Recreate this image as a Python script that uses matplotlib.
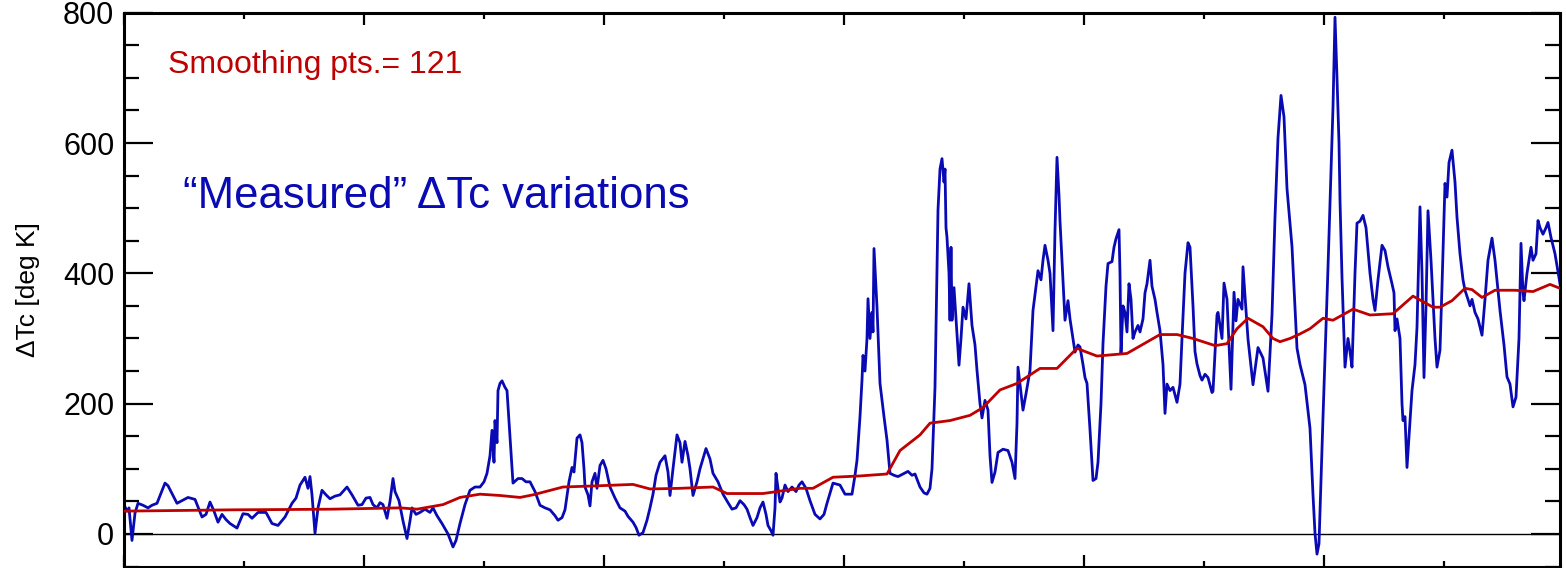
import matplotlib
matplotlib.use("Agg")
import matplotlib.pyplot as plt
from matplotlib.ticker import MultipleLocator, NullFormatter
import numpy as np

# ---- data (sample index, deg K) ----
blue_x = [0, 3, 5, 8, 11, 14, 19, 24, 28, 33, 41, 44, 53, 59, 64, 71, 78, 82, 86, 90, 94, 98, 102, 106, 113, 119, 124, 128, 134, 142, 148, 154, 161, 168, 172, 176, 181, 184, 186, 188, 191, 194, 198, 202, 206, 211, 216, 223, 228, 234, 238, 242, 246, 249, 253, 256, 259, 263, 266, 269, 271, 275, 279, 283, 286, 288, 292, 296, 301, 306, 309, 313, 318, 324, 329, 332, 336, 341, 346, 351, 356, 360, 363, 366, 368, 370, 371, 373, 374, 376, 378, 381, 383, 386, 389, 394, 398, 402, 406, 411, 416, 421, 426, 431, 434, 438, 441, 445, 448, 450, 453, 456, 458, 460, 461, 464, 466, 468, 471, 473, 476, 479, 482, 486, 491, 496, 501, 504, 509, 512, 515, 519, 523, 526, 529, 532, 536, 541, 544, 546, 549, 553, 556, 558, 561, 564, 566, 569, 573, 576, 582, 586, 589, 594, 599, 604, 608, 612, 616, 620, 623, 626, 629, 633, 636, 639, 642, 644, 647, 649, 651, 652, 654, 656, 658, 661, 664, 668, 672, 675, 678, 682, 686, 691, 696, 700, 703, 709, 716, 721, 728, 731, 733, 736, 738, 739, 741, 743, 744, 746, 748, 749, 750, 752, 753, 756, 760, 763, 766, 770, 774, 779, 784, 788, 791, 796, 800, 803, 806, 808, 811, 813, 814, 816, 818, 820, 821, 822, 823, 825, 826, 827, 828, 830, 832, 835, 837, 839, 842, 845, 848, 851, 853, 856, 858, 861, 864, 866, 868, 871, 874, 879, 884, 888, 891, 893, 894, 896, 899, 902, 906, 909, 912, 914, 917, 919, 921, 924, 926, 929, 931, 932, 933, 935, 936, 938, 941, 944, 946, 949, 951, 954, 956, 959, 961, 963, 966, 969, 972, 974, 977, 979, 982, 984, 988, 990, 992, 995, 996, 997, 999, 1001, 1003, 1005, 1007, 1009, 1011, 1014, 1016, 1019, 1021, 1023, 1026, 1028, 1031, 1033, 1036, 1039, 1041, 1043, 1046, 1049, 1053, 1056, 1058, 1061, 1064, 1066, 1069, 1071, 1073, 1076, 1078, 1081, 1084, 1088, 1089, 1093, 1094, 1098, 1100, 1103, 1107, 1110, 1112, 1114, 1118, 1119, 1124, 1129, 1134, 1139, 1144, 1148, 1151, 1154, 1157, 1160, 1163, 1168, 1173, 1176, 1181, 1186, 1189, 1191, 1193, 1195, 1199, 1204, 1209, 1211, 1213, 1215, 1216, 1218, 1221, 1224, 1226, 1228, 1231, 1233, 1236, 1239, 1242, 1246, 1249, 1251, 1254, 1258, 1261, 1264, 1268, 1270, 1271, 1273, 1276, 1278, 1279, 1281, 1283, 1285, 1288, 1291, 1293, 1296, 1298, 1300, 1302, 1304, 1307, 1309, 1311, 1313, 1316, 1318, 1321, 1323, 1325, 1328, 1331, 1333, 1336, 1339, 1341, 1344, 1346, 1348, 1351, 1354, 1358, 1361, 1364, 1368, 1371, 1376, 1380, 1383, 1386, 1389, 1392, 1395, 1397, 1399, 1400, 1403, 1407, 1409, 1412, 1414, 1416, 1419, 1422, 1424, 1427, 1431, 1436]
blue_y = [45, 35, 40, -10, 32, 47, 44, 40, 44, 47, 78, 74, 47, 52, 56, 53, 26, 30, 49, 35, 18, 30, 22, 16, 9, 31, 30, 24, 33, 33, 16, 13, 26, 47, 55, 75, 87, 70, 88, 60, 1, 40, 67, 60, 54, 58, 60, 72, 60, 44, 45, 55, 56, 45, 40, 48, 45, 24, 50, 85, 65, 51, 20, -7, 20, 40, 30, 33, 38, 33, 40, 28, 16, 0, -20, -10, 16, 45, 67, 72, 72, 80, 93, 120, 159, 110, 174, 140, 220, 231, 235, 225, 220, 150, 78, 85, 85, 80, 80, 65, 44, 40, 37, 28, 21, 25, 37, 80, 102, 95, 147, 152, 140, 100, 72, 60, 43, 80, 93, 70, 105, 113, 100, 72, 55, 40, 35, 27, 18, 10, -2, 2, 21, 40, 61, 90, 110, 120, 95, 59, 100, 152, 140, 110, 142, 120, 100, 59, 80, 100, 131, 115, 93, 80, 61, 48, 38, 40, 51, 45, 38, 25, 13, 25, 40, 49, 30, 13, 5, -2, 40, 93, 70, 49, 55, 75, 65, 72, 65, 75, 80, 70, 51, 30, 23, 30, 47, 78, 75, 61, 61, 90, 113, 180, 236, 274, 250, 300, 361, 300, 340, 310, 438, 380, 348, 231, 180, 144, 93, 90, 88, 92, 96, 90, 92, 72, 63, 61, 70, 100, 225, 400, 497, 560, 576, 540, 560, 470, 455, 400, 328, 440, 328, 378, 330, 259, 300, 348, 330, 384, 320, 290, 251, 200, 178, 205, 190, 120, 79, 95, 125, 130, 128, 110, 85, 170, 256, 230, 190, 215, 251, 343, 380, 404, 390, 420, 443, 420, 400, 312, 466, 520, 578, 520, 480, 420, 328, 358, 330, 300, 279, 290, 287, 260, 240, 231, 160, 82, 85, 110, 200, 292, 380, 415, 418, 440, 453, 467, 400, 277, 350, 340, 310, 384, 360, 300, 310, 320, 310, 330, 370, 384, 420, 380, 360, 340, 312, 260, 185, 230, 220, 225, 202, 230, 300, 400, 447, 440, 350, 280, 261, 243, 236, 245, 240, 217, 219, 336, 340, 300, 385, 360, 222, 371, 327, 360, 345, 410, 299, 229, 286, 270, 219, 336, 486, 608, 673, 640, 530, 441, 285, 260, 229, 162, 60, 1, -31, -15, 179, 409, 655, 793, 700, 600, 512, 394, 256, 300, 280, 256, 400, 477, 480, 489, 470, 400, 360, 343, 390, 443, 435, 410, 384, 370, 312, 330, 300, 200, 174, 180, 102, 150, 220, 260, 317, 502, 400, 240, 350, 496, 420, 360, 300, 256, 282, 380, 538, 517, 570, 589, 540, 486, 430, 390, 374, 360, 350, 360, 340, 330, 305, 360, 420, 454, 420, 343, 290, 241, 230, 195, 210, 300, 446, 370, 358, 400, 440, 420, 430, 481, 470, 460, 470, 478, 455, 430, 384]

red_x = [0, 56, 109, 166, 209, 276, 293, 319, 336, 356, 376, 396, 409, 439, 476, 509, 526, 556, 589, 603, 639, 676, 689, 709, 736, 763, 776, 796, 806, 826, 846, 859, 876, 893, 916, 933, 953, 961, 973, 1003, 1036, 1053, 1069, 1091, 1103, 1113, 1124, 1139, 1149, 1156, 1166, 1176, 1186, 1199, 1209, 1229, 1246, 1269, 1289, 1309, 1316, 1328, 1341, 1348, 1358, 1371, 1391, 1409, 1426, 1436]
red_y = [35, 36, 37, 37.5, 38, 40, 38, 45, 56, 61, 59, 56, 60, 72, 74, 76, 69, 70, 72, 62, 62, 70, 70, 87, 89, 92, 128, 152, 170, 174, 182, 194, 221, 231, 254, 254, 285, 280, 273, 277, 306, 306, 300, 289, 292, 315, 331, 318, 300, 295, 300, 307, 315, 331, 328, 345, 336, 338, 365, 348, 348, 358, 377, 375, 363, 374, 374, 372, 383, 377]

y_ticks = [0, 200, 400, 600, 800]
smoothing_label = "Smoothing pts.= 121"
measured_label = "\u201cMeasured\u201d \u0394Tc variations"
y_label = "\u0394Tc [deg K]"

BLUE = "#0a0ab4"
RED = "#be0000"

plt.rcParams['font.family'] = ['Liberation Sans', 'DejaVu Sans']

W, H = 1566, 568
fig = plt.figure(figsize=(W / 100, H / 100), dpi=100)
left, right, top, bottom = 124, 1560, 12.7, 566.5
ax = fig.add_axes([left / W, (H - bottom) / H, (right - left) / W, (bottom - top) / H])

ax.axhline(0, color='black', lw=1.0, zorder=1)
ax.plot(blue_x, blue_y, color=BLUE, lw=2.0, zorder=2)
ax.plot(red_x, red_y, color=RED, lw=2.0, zorder=3)

ax.set_xlim(0, 1436)
ax.set_ylim(-50, 800)
ax.xaxis.set_major_locator(MultipleLocator(240))
ax.xaxis.set_minor_locator(MultipleLocator(120))
ax.xaxis.set_major_formatter(NullFormatter())
ax.set_yticks(y_ticks)
ax.yaxis.set_minor_locator(MultipleLocator(50))

for s in ax.spines.values():
    s.set_linewidth(2.2)

ax.tick_params(axis='y', which='major', direction='in', length=21, width=1.6,
               left=True, right=True, labelsize=22, pad=7)
ax.tick_params(axis='y', which='minor', direction='in', length=10.5, width=1.6,
               left=True, right=True)
ax.tick_params(axis='x', which='major', direction='in', length=8.6, width=1.6,
               top=True, bottom=True)
ax.tick_params(axis='x', which='minor', direction='in', length=4.3, width=1.6,
               top=True, bottom=True)

ax.text(44, 707, smoothing_label, color=RED, fontsize=23, ha='left', va='baseline')
ax.text(59, 500, measured_label, color=BLUE, fontsize=31.5, ha='left', va='baseline')

fig.text(28 / W, 1 - 290 / H, y_label, rotation=90, fontsize=19,
         ha='center', va='center')

fig.savefig("out.png", dpi=100)
